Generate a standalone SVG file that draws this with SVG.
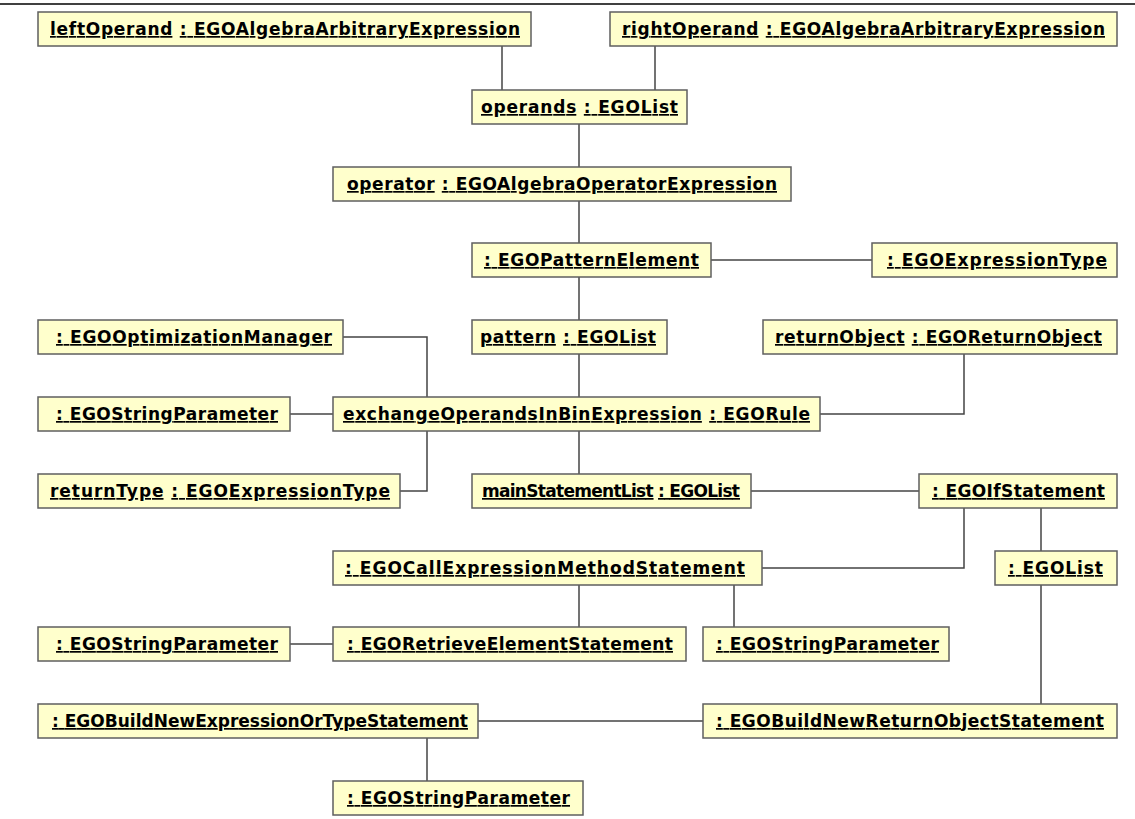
<svg xmlns="http://www.w3.org/2000/svg" width="1135" height="819" viewBox="0 0 1135 819">
  <style>
    .box { fill: #ffffcc; stroke: #5f5f5f; stroke-width: 1.5; }
    .lbl { font-family: "DejaVu Sans", "Liberation Sans", sans-serif; font-weight: bold; font-size: 17px; fill: #000; text-anchor: middle; }
    .u { text-decoration: underline; }
    .edge { fill: none; stroke: #444; stroke-width: 1.5; }
  </style>
  <rect width="1135" height="819" fill="#ffffff"/>
  <line x1="0" y1="4" x2="1135" y2="4" stroke="#000" stroke-width="1.5"/>

  <g id="connectors">
    <path class="edge" d="M502 46 V90"/>
    <path class="edge" d="M655 46 V90"/>
    <path class="edge" d="M579 124 V167"/>
    <path class="edge" d="M579 201 V243"/>
    <path class="edge" d="M711 260 H872"/>
    <path class="edge" d="M579 277 V320"/>
    <path class="edge" d="M579 354 V397"/>
    <path class="edge" d="M343 337 H427 V397"/>
    <path class="edge" d="M290 414 H333"/>
    <path class="edge" d="M400 491 H427 V431"/>
    <path class="edge" d="M964 354 V414 H820"/>
    <path class="edge" d="M579 431 V474"/>
    <path class="edge" d="M751 491 H919"/>
    <path class="edge" d="M964 508 V568 H762"/>
    <path class="edge" d="M1041 508 V551"/>
    <path class="edge" d="M579 585 V627"/>
    <path class="edge" d="M734 585 V627"/>
    <path class="edge" d="M290 644 H333"/>
    <path class="edge" d="M1041 585 V704"/>
    <path class="edge" d="M478 721 H703"/>
    <path class="edge" d="M427 738 V781"/>
  </g>

  <g id="leftOperand">
    <rect class="box" x="38" y="12" width="493" height="34"/>
    <text class="lbl" x="285" y="35" textLength="470"><tspan class="u">leftOperand</tspan> <tspan class="u">: EGOAlgebraArbitraryExpression</tspan></text>
  </g>
  <g id="rightOperand">
    <rect class="box" x="610" y="12" width="507" height="34"/>
    <text class="lbl" x="863.5" y="35" textLength="483"><tspan class="u">rightOperand</tspan> <tspan class="u">: EGOAlgebraArbitraryExpression</tspan></text>
  </g>
  <g id="operands">
    <rect class="box" x="472" y="90" width="215" height="34"/>
    <text class="lbl" x="579.5" y="113" textLength="197"><tspan class="u">operands</tspan> <tspan class="u">: EGOList</tspan></text>
  </g>
  <g id="operator">
    <rect class="box" x="333" y="167" width="458" height="34"/>
    <text class="lbl" x="562" y="190" textLength="430"><tspan class="u">operator</tspan> <tspan class="u">: EGOAlgebraOperatorExpression</tspan></text>
  </g>
  <g id="patternElement">
    <rect class="box" x="472" y="243" width="239" height="34"/>
    <text class="lbl u" x="591.5" y="266" textLength="215">: EGOPatternElement</text>
  </g>
  <g id="expressionType">
    <rect class="box" x="872" y="243" width="245" height="34"/>
    <text class="lbl u" x="997" y="266" textLength="220">: EGOExpressionType</text>
  </g>
  <g id="optimizationManager">
    <rect class="box" x="38" y="320" width="305" height="34"/>
    <text class="lbl u" x="194" y="343" textLength="276">: EGOOptimizationManager</text>
  </g>
  <g id="pattern">
    <rect class="box" x="472" y="320" width="195" height="34"/>
    <text class="lbl" x="568" y="343" textLength="176"><tspan class="u">pattern</tspan> <tspan class="u">: EGOList</tspan></text>
  </g>
  <g id="returnObject">
    <rect class="box" x="763" y="320" width="354" height="34"/>
    <text class="lbl" x="938.5" y="343" textLength="327"><tspan class="u">returnObject</tspan> <tspan class="u">: EGOReturnObject</tspan></text>
  </g>
  <g id="ruleStringParameter">
    <rect class="box" x="38" y="397" width="252" height="34"/>
    <text class="lbl u" x="167" y="420" textLength="222">: EGOStringParameter</text>
  </g>
  <g id="rule">
    <rect class="box" x="333" y="397" width="487" height="34"/>
    <text class="lbl" x="576.5" y="420" textLength="467"><tspan class="u">exchangeOperandsInBinExpression</tspan> <tspan class="u">: EGORule</tspan></text>
  </g>
  <g id="returnType">
    <rect class="box" x="38" y="474" width="362" height="34"/>
    <text class="lbl" x="220" y="497" textLength="340"><tspan class="u">returnType</tspan> <tspan class="u">: EGOExpressionType</tspan></text>
  </g>
  <g id="mainStatementList">
    <rect class="box" x="472" y="474" width="279" height="34"/>
    <text class="lbl" x="611" y="497" textLength="258"><tspan class="u">mainStatementList</tspan> <tspan class="u">: EGOList</tspan></text>
  </g>
  <g id="ifStatement">
    <rect class="box" x="919" y="474" width="198" height="34"/>
    <text class="lbl u" x="1018.5" y="497" textLength="173">: EGOIfStatement</text>
  </g>
  <g id="callExpressionMethodStatement">
    <rect class="box" x="333" y="551" width="429" height="34"/>
    <text class="lbl u" x="545" y="574" textLength="400">: EGOCallExpressionMethodStatement</text>
  </g>
  <g id="ifList">
    <rect class="box" x="995" y="551" width="122" height="34"/>
    <text class="lbl u" x="1055.5" y="574" textLength="95">: EGOList</text>
  </g>
  <g id="retrieveStringParameter">
    <rect class="box" x="38" y="627" width="252" height="34"/>
    <text class="lbl u" x="167" y="650" textLength="222">: EGOStringParameter</text>
  </g>
  <g id="retrieveElementStatement">
    <rect class="box" x="333" y="627" width="353" height="34"/>
    <text class="lbl u" x="510" y="650" textLength="326">: EGORetrieveElementStatement</text>
  </g>
  <g id="callStringParameter">
    <rect class="box" x="703" y="627" width="246" height="34"/>
    <text class="lbl u" x="827.5" y="650" textLength="223">: EGOStringParameter</text>
  </g>
  <g id="buildNewExpressionOrTypeStatement">
    <rect class="box" x="38" y="704" width="440" height="34"/>
    <text class="lbl u" x="260" y="727" textLength="416">: EGOBuildNewExpressionOrTypeStatement</text>
  </g>
  <g id="buildNewReturnObjectStatement">
    <rect class="box" x="703" y="704" width="414" height="34"/>
    <text class="lbl u" x="910" y="727" textLength="388">: EGOBuildNewReturnObjectStatement</text>
  </g>
  <g id="buildStringParameter">
    <rect class="box" x="333" y="781" width="250" height="34"/>
    <text class="lbl u" x="458.5" y="804" textLength="223">: EGOStringParameter</text>
  </g>
</svg>
